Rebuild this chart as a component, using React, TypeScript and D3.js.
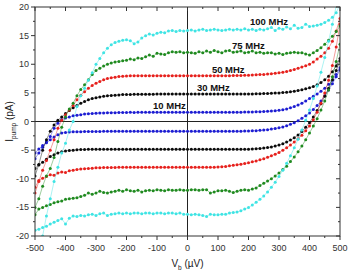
import React, { useEffect, useRef } from 'react';
import * as d3 from 'd3';

// bias voltage (µV), shared by every branch
const vb = [
  -500, -487.5, -475, -462.5, -450, -437.5, -425, -412.5, -400, -387.5,
  -375, -362.5, -350, -337.5, -325, -312.5, -300, -287.5, -275, -262.5,
  -250, -237.5, -225, -212.5, -200, -187.5, -175, -162.5, -150, -137.5,
  -125, -112.5, -100, -87.5, -75, -62.5, -50, -37.5, -25, -12.5,
  0, 12.5, 25, 37.5, 50, 62.5, 75, 87.5, 100, 112.5,
  125, 137.5, 150, 162.5, 175, 187.5, 200, 212.5, 225, 237.5,
  250, 262.5, 275, 287.5, 300, 312.5, 325, 337.5, 350, 362.5,
  375, 387.5, 400, 412.5, 425, 437.5, 450, 462.5, 475, 487.5, 500,
];

// pump current (pA): upper and lower branch per frequency
const i10Up = [
  -6.5, -5.5, -4.5, -3.6, -2.6, -1.2, -0.3, 0.3, 0.6, 0.8,
  1.0, 1.1, 1.2, 1.3, 1.35, 1.4, 1.45, 1.5, 1.5, 1.52,
  1.55, 1.55, 1.57, 1.57, 1.58, 1.6, 1.58, 1.6, 1.6, 1.6,
  1.6, 1.62, 1.6, 1.6, 1.6, 1.62, 1.6, 1.6, 1.6, 1.6,
  1.6, 1.6, 1.6, 1.62, 1.6, 1.6, 1.6, 1.6, 1.6, 1.62,
  1.6, 1.6, 1.62, 1.62, 1.63, 1.64, 1.65, 1.67, 1.7, 1.72,
  1.75, 1.78, 1.82, 1.87, 1.95, 2.05, 2.2, 2.4, 2.6, 2.9,
  3.2, 3.6, 4.0, 4.4, 4.8, 5.3, 5.8, 6.5, 7.2, 8.2, 9.4,
];
const i10Down = [
  -5.5, -4.8, -4.2, -3.7, -3.2, -2.7, -2.3, -2.0, -1.9, -1.85,
  -1.8, -1.8, -1.78, -1.76, -1.75, -1.75, -1.74, -1.73, -1.72, -1.72,
  -1.72, -1.7, -1.7, -1.7, -1.7, -1.7, -1.7, -1.7, -1.7, -1.7,
  -1.7, -1.7, -1.7, -1.7, -1.7, -1.7, -1.7, -1.7, -1.7, -1.7,
  -1.7, -1.7, -1.7, -1.7, -1.7, -1.7, -1.7, -1.7, -1.7, -1.7,
  -1.7, -1.7, -1.7, -1.7, -1.7, -1.68, -1.66, -1.63, -1.6, -1.55,
  -1.5, -1.42, -1.33, -1.22, -1.1, -0.95, -0.75, -0.5, -0.2, 0.15,
  0.55, 1.0, 1.5, 2.1, 2.8, 3.6, 4.5, 5.5, 6.6, 7.8, 9.0,
];
const i30Up = [
  -9.5, -7.5, -5.0, -3.2, -1.7, -0.6, 0.2, 0.8, 1.4, 1.9,
  2.4, 2.8, 3.2, 3.5, 3.8, 4.0, 4.15, 4.3, 4.4, 4.5,
  4.55, 4.6, 4.65, 4.7, 4.7, 4.72, 4.74, 4.75, 4.76, 4.77,
  4.78, 4.78, 4.79, 4.8, 4.8, 4.8, 4.8, 4.8, 4.8, 4.8,
  4.8, 4.8, 4.8, 4.8, 4.8, 4.8, 4.8, 4.8, 4.8, 4.8,
  4.8, 4.8, 4.8, 4.8, 4.8, 4.8, 4.82, 4.82, 4.84, 4.85,
  4.87, 4.9, 4.93, 4.97, 5.0, 5.05, 5.1, 5.2, 5.3, 5.4,
  5.55, 5.7, 5.9, 6.1, 6.4, 6.8, 7.3, 7.9, 8.7, 9.7, 11.0,
];
const i30Down = [
  -8.2, -7.6, -7.1, -6.6, -6.1, -5.8, -5.5, -5.3, -5.15, -5.05,
  -5.0, -4.95, -4.9, -4.88, -4.86, -4.85, -4.85, -4.85, -4.85, -4.85,
  -4.85, -4.85, -4.85, -4.85, -4.85, -4.85, -4.85, -4.85, -4.85, -4.85,
  -4.85, -4.85, -4.85, -4.85, -4.85, -4.85, -4.85, -4.85, -4.85, -4.85,
  -4.85, -4.85, -4.85, -4.85, -4.85, -4.85, -4.85, -4.85, -4.85, -4.85,
  -4.85, -4.85, -4.85, -4.85, -4.85, -4.85, -4.83, -4.8, -4.77, -4.72,
  -4.65, -4.55, -4.45, -4.3, -4.1, -3.9, -3.6, -3.25, -2.85, -2.35,
  -1.75, -1.0, -0.2, 0.8, 1.9, 3.1, 4.4, 5.8, 7.3, 8.9, 10.6,
];
const i50Up = [
  -12.5, -10.5, -8.5, -6.8, -5.0, -3.2, -1.2, 0.2, 1.2, 2.0,
  2.8, 3.8, 4.6, 5.2, 5.8, 6.3, 6.7, 7.0, 7.3, 7.5,
  7.65, 7.75, 7.85, 7.9, 7.95, 7.97, 8.0, 8.0, 8.0, 8.0,
  8.0, 8.0, 8.0, 8.0, 8.0, 8.0, 8.0, 8.0, 8.0, 8.0,
  8.0, 8.0, 8.0, 8.0, 8.0, 8.0, 8.0, 8.0, 8.0, 8.0,
  8.0, 8.0, 8.02, 8.03, 8.05, 8.07, 8.1, 8.13, 8.16, 8.2,
  8.23, 8.28, 8.35, 8.42, 8.5, 8.6, 8.75, 8.9, 9.1, 9.3,
  9.5, 9.75, 10.0, 10.4, 10.9, 11.4, 12.0, 12.8, 14.0, 15.8, 18.0,
];
const i50Down = [
  -11.5, -10.3, -9.9, -9.6, -9.3, -9.4, -9.0, -8.8, -8.9, -8.6,
  -8.5, -8.4, -8.3, -8.25, -8.2, -8.15, -8.1, -8.08, -8.05, -8.05,
  -8.03, -8.02, -8.0, -8.0, -8.0, -8.0, -8.0, -8.0, -8.0, -8.0,
  -8.0, -8.0, -8.0, -8.0, -8.0, -8.0, -8.0, -8.0, -8.0, -8.0,
  -8.0, -8.0, -8.0, -8.0, -8.0, -8.0, -8.0, -8.0, -7.95, -7.9,
  -7.85, -7.75, -7.65, -7.55, -7.45, -7.35, -7.2, -7.05, -6.9, -6.7,
  -6.5, -6.25, -6.0, -5.7, -5.4, -5.0, -4.6, -4.1, -3.6, -3.0,
  -2.4, -1.6, -0.8, 0.3, 1.6, 3.2, 5.0, 7.2, 9.8, 13.0, 17.0,
];
const i75Up = [
  -15.0, -13.5, -11.3, -9.5, -8.2, -6.3, -3.5, -1.0, 0.8, 2.2,
  3.2, 4.5, 5.6, 6.4, 7.3, 8.2, 8.9, 9.3, 9.7, 10.0,
  10.2, 10.4, 10.5, 10.6, 10.7, 10.9, 10.8, 11.1, 11.0, 11.3,
  11.6, 11.4, 11.9, 11.8, 11.7, 12.0, 12.2, 12.1, 12.2, 12.0,
  12.1, 12.0, 11.9, 12.2, 12.0, 12.3, 12.1, 12.4, 12.2, 12.0,
  12.3, 12.4, 12.1, 12.2, 12.3, 12.0, 12.1, 12.3, 12.0, 12.1,
  11.9, 12.0, 12.0, 11.8, 11.9, 11.7, 11.9, 12.0, 12.1, 12.0,
  12.0, 11.8, 11.6, 12.0, 12.4, 12.9, 13.5, 14.2, 14.9, 15.7, 16.7,
];
const i75Down = [
  -16.3, -15.3, -15.0, -14.7, -14.5, -14.2, -14.0, -13.9, -13.6, -13.5,
  -13.4, -13.3, -13.1, -12.9, -12.5, -12.7, -12.5, -12.2, -12.4, -12.5,
  -12.3, -12.2, -12.0, -12.2, -11.9, -12.1, -12.2, -12.0, -12.3, -12.1,
  -12.0, -12.1, -11.9, -12.0, -12.1, -11.9, -12.0, -12.0, -11.9, -12.0,
  -12.0, -11.9, -11.9, -12.0, -11.9, -11.9, -12.5, -12.3, -12.1, -12.1,
  -12.0, -12.2, -12.4, -12.2, -12.0, -11.9, -12.0, -11.8, -11.6, -11.2,
  -10.8, -10.4, -10.0, -9.5, -9.0, -8.4, -7.8, -7.0, -6.2, -5.3,
  -4.3, -3.2, -2.0, -0.8, 0.5, 2.0, 3.6, 5.5, 7.8, 10.5, 13.5,
];
const i100Up = [
  -26, -23, -20, -16.5, -13.5, -10.5, -8.0, -5.5, -3.8, -1.5,
  0.0, 2.6, 4.5, 5.8, 7.2, 8.5, 10.0, 11.0, 12.0, 12.8,
  13.4, 13.8, 14.0, 14.2, 14.3, 14.1, 13.6, 13.9, 14.6, 15.0,
  15.3, 15.1, 15.4, 15.6, 15.5, 15.8, 15.9, 15.7, 15.9, 15.8,
  15.9, 16.0, 15.8, 16.0, 16.1, 15.9, 16.0, 16.1, 16.0, 15.9,
  16.0, 16.1, 16.0, 16.1, 16.0, 16.2, 16.0, 16.1, 15.9, 16.1,
  16.0, 16.2, 16.4, 15.9, 16.3, 16.1, 16.5, 16.2, 16.8, 16.3,
  16.4, 17.0, 16.6, 16.7, 16.8, 17.0, 17.3, 17.7, 18.2, 19.0, 20.5,
];
const i100Down = [
  -19.0, -18.8, -18.5, -18.3, -17.9, -17.6, -17.3, -17.0, -17.9, -16.9,
  -16.5, -16.6, -16.4, -16.5, -16.3, -16.2, -16.4, -16.1, -16.0, -16.4,
  -16.2, -16.1, -16.0, -16.1, -16.0, -16.1, -16.0, -16.0, -16.1, -16.0,
  -16.0, -16.1, -16.0, -16.0, -16.1, -16.0, -16.0, -16.1, -16.0, -16.2,
  -16.2, -16.3, -16.2, -16.3, -16.4, -16.6, -16.2, -16.3, -16.3, -16.2,
  -16.2, -16.0, -15.9, -15.8, -15.6, -15.3, -15.0, -14.6, -14.1, -13.6,
  -13.0, -12.3, -11.5, -10.6, -9.6, -8.5, -7.3, -6.0, -4.6, -3.1,
  -1.5, 0.2, 2.0, 4.0, 6.2, 8.6, 11.2, 14.0, 17.0, 20.2, 23.5,
];

const freqLabels = ['10 MHz', '30 MHz', '50 MHz', '75 MHz', '100 MHz'];
const labelPos = [[-113, 2.1], [31, 5.4], [80, 8.5], [146, 12.7], [205, 16.9]];
const colors = ['#1c1cd2', '#0a0a0a', '#e6201c', '#1f8a1f', '#3fe4e4'];
const branches = [
  [i10Up, i10Down],
  [i30Up, i30Down],
  [i50Up, i50Down],
  [i75Up, i75Down],
  [i100Up, i100Down],
];

const xTicks = [-500, -400, -300, -200, -100, 0, 100, 200, 300, 400, 500];
const yTicks = [-20, -15, -10, -5, 0, 5, 10, 15, 20];

const W = 349;
const H = 272;
const margin = { top: 7, right: 9, bottom: 36, left: 35 };

const App = () => {
  const ref = useRef<SVGSVGElement>(null);

  useEffect(() => {
    const width = W - margin.left - margin.right;
    const height = H - margin.top - margin.bottom;
    const svg = d3.select(ref.current);
    svg.selectAll('*').remove();

    const x = d3.scaleLinear().domain([-500, 500]).range([0, width]);
    const y = d3.scaleLinear().domain([-20, 20]).range([height, 0]);

    const g = svg.append('g').attr('transform', `translate(${margin.left},${margin.top})`);

    g.append('clipPath').attr('id', 'plotClip')
      .append('rect').attr('width', width).attr('height', height);

    // zero lines
    g.append('line').attr('x1', 0).attr('x2', width).attr('y1', y(0)).attr('y2', y(0))
      .attr('stroke', '#222').attr('stroke-width', 1);
    g.append('line').attr('x1', x(0)).attr('x2', x(0)).attr('y1', 0).attr('y2', height)
      .attr('stroke', '#222').attr('stroke-width', 1);

    const plot = g.append('g').attr('clip-path', 'url(#plotClip)');
    const line = d3.line<number>().x((_, i) => x(vb[i])).y(d => y(d));

    branches.forEach((pair, k) => {
      pair.forEach(series => {
        plot.append('path').datum(series)
          .attr('d', line)
          .attr('fill', 'none')
          .attr('stroke', colors[k])
          .attr('stroke-opacity', 0.55)
          .attr('stroke-width', 0.8);
        plot.selectAll(null)
          .data(series)
          .join('circle')
          .attr('cx', (_, i) => x(vb[i]))
          .attr('cy', d => y(d))
          .attr('r', 1.5)
          .attr('fill', colors[k]);
      });
    });

    // frame
    g.append('rect').attr('width', width).attr('height', height)
      .attr('fill', 'none').attr('stroke', '#333').attr('stroke-width', 1);

    const minorX = d3.range(-450, 500, 100);
    const minorY = d3.range(-17.5, 20, 5);
    const tick = (x1: number, y1: number, x2: number, y2: number) =>
      g.append('line').attr('x1', x1).attr('y1', y1).attr('x2', x2).attr('y2', y2)
        .attr('stroke', '#333').attr('stroke-width', 1);

    xTicks.forEach(t => {
      tick(x(t), height, x(t), height + 4);
      tick(x(t), 0, x(t), 4);
    });
    minorX.forEach(t => {
      tick(x(t), height, x(t), height + 2);
      tick(x(t), 0, x(t), 2);
    });
    yTicks.forEach(t => {
      tick(0, y(t), -4, y(t));
      tick(width, y(t), width - 4, y(t));
    });
    minorY.forEach(t => {
      tick(0, y(t), -2, y(t));
      tick(width, y(t), width - 2, y(t));
    });

    const font = 'Liberation Sans, Arial, sans-serif';
    g.selectAll('.xl').data(xTicks).join('text')
      .attr('x', d => x(d)).attr('y', height + 15)
      .attr('text-anchor', 'middle').attr('font-family', font).attr('font-size', 9)
      .attr('fill', '#333').text(d => String(d));
    g.selectAll('.yl').data(yTicks).join('text')
      .attr('x', -6).attr('y', d => y(d) + 3)
      .attr('text-anchor', 'end').attr('font-family', font).attr('font-size', 9)
      .attr('fill', '#333').text(d => String(d));

    // frequency labels
    freqLabels.forEach((s, k) => {
      g.append('text')
        .attr('x', x(labelPos[k][0])).attr('y', y(labelPos[k][1]))
        .attr('font-family', font).attr('font-size', 9.5).attr('font-weight', 'bold')
        .attr('fill', '#111').text(s);
    });

    // axis titles
    const xt = svg.append('text')
      .attr('x', margin.left + x(0)).attr('y', 267)
      .attr('text-anchor', 'middle').attr('font-family', font).attr('font-size', 10)
      .attr('fill', '#222');
    xt.append('tspan').text('V');
    xt.append('tspan').attr('font-size', 6.5).attr('dy', 2.5).text('b');
    xt.append('tspan').attr('dy', -2.5).text(' (µV)');

    const yt = svg.append('text')
      .attr('transform', `translate(13,${margin.top + y(0)}) rotate(-90)`)
      .attr('text-anchor', 'middle').attr('font-family', font).attr('font-size', 10)
      .attr('fill', '#222');
    yt.append('tspan').text('I');
    yt.append('tspan').attr('font-size', 6.5).attr('dy', 2.5).text('pump');
    yt.append('tspan').attr('dy', -2.5).text(' (pA)');
  }, []);

  return (
    <svg ref={ref} width={W} height={H}
      style={{ position: 'absolute', left: 0, top: 0, background: '#fff' }} />
  );
};

export default App;
